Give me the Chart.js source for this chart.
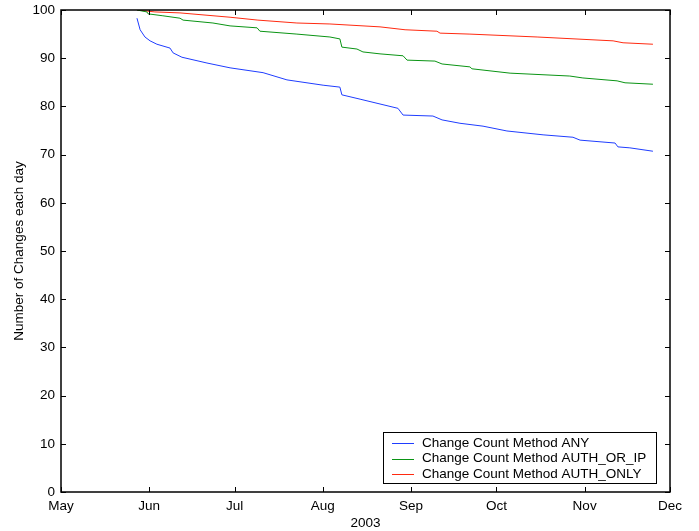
<!DOCTYPE html>
<html>
<head>
<meta charset="utf-8">
<script src="https://cdn.jsdelivr.net/npm/chart.js@4"></script>
<style>
  html, body { margin: 0; padding: 0; background: #fff; }
  #wrap { width: 699px; height: 531px; }
</style>
</head>
<body>
<div id="wrap"><canvas id="myChart" width="699" height="531"></canvas></div>
<script>
// day 0 = 1 May 2003
var monthStarts = [0, 31, 61, 92, 123, 153, 184, 214];
var monthLabels = ['May', 'Jun', 'Jul', 'Aug', 'Sep', 'Oct', 'Nov', 'Dec'];
var yTicks = [0, 10, 20, 30, 40, 50, 60, 70, 80, 90, 100];

var seriesNames = ['Change Count Method ANY', 'Change Count Method AUTH_OR_IP', 'Change Count Method AUTH_ONLY'];
var seriesColors = ['#1f3dff', '#0a9414', '#ff2a10'];

var anyDays = [26.7, 27.8, 29.5, 31.3, 33.7, 38.3, 39.4, 42.5, 51.3, 59.4, 71.0, 79.4, 92.1, 98.0, 98.7, 105.1, 112.1, 118.4, 120.2, 130.7, 133.9, 140.2, 148.3, 156.7, 169.4, 179.9, 182.4, 194.7, 195.7, 199.9, 208.0];
var anyValues = [98.3, 95.9, 94.4, 93.6, 92.9, 92.1, 91.1, 90.2, 89.0, 88.0, 87.0, 85.5, 84.4, 84.0, 82.4, 81.5, 80.5, 79.6, 78.2, 78.0, 77.2, 76.5, 75.9, 74.9, 74.1, 73.6, 73.0, 72.4, 71.6, 71.4, 70.7];

var authIpDays = [26.7, 30.2, 30.6, 35.8, 41.8, 42.9, 53.4, 59.4, 68.9, 69.9, 82.9, 94.5, 98.0, 98.7, 104.0, 106.1, 112.1, 120.2, 121.6, 131.4, 133.9, 143.7, 144.4, 157.8, 178.8, 183.4, 195.4, 198.2, 208.0];
var authIpValues = [100, 99.6, 99.2, 98.8, 98.3, 97.9, 97.3, 96.7, 96.3, 95.6, 95.0, 94.4, 94.0, 92.3, 91.9, 91.3, 90.9, 90.5, 89.6, 89.4, 88.8, 88.2, 87.8, 86.9, 86.3, 85.9, 85.3, 84.9, 84.6];

var authOnlyDays = [26.7, 33.0, 41.8, 59.4, 69.2, 82.9, 94.5, 112.1, 120.9, 132.1, 133.2, 143.7, 167.3, 194.0, 197.5, 208.0];
var authOnlyValues = [100, 99.6, 99.4, 98.5, 97.9, 97.3, 97.1, 96.5, 95.9, 95.6, 95.2, 95.0, 94.4, 93.6, 93.2, 92.9];

function toPoints(days, values) {
  return days.map(function (d, i) { return { x: d, y: values[i] }; });
}

var seriesDays = [anyDays, authIpDays, authOnlyDays];
var seriesValues = [anyValues, authIpValues, authOnlyValues];

var datasets = seriesNames.map(function (name, i) {
  return {
    label: name,
    data: toPoints(seriesDays[i], seriesValues[i]),
    borderColor: seriesColors[i],
    borderWidth: 1,
    pointRadius: 0,
    fill: false,
    tension: 0
  };
});

var FONT = '"Liberation Sans", Arial, Helvetica, sans-serif';
Chart.defaults.font.family = FONT;
Chart.defaults.font.size = 13.5;
Chart.defaults.color = '#000';

// frame, inward ticks and boxed legend, MATLAB style
var matlabAxes = {
  id: 'matlabAxes',
  afterDraw: function (chart) {
    var ctx = chart.ctx;
    var a = chart.chartArea;
    var xs = chart.scales.x, ys = chart.scales.y;
    var tl = 5;
    ctx.save();
    ctx.strokeStyle = '#000';
    ctx.lineWidth = 1;
    ctx.beginPath();
    monthStarts.forEach(function (v) {
      var px = Math.round(xs.getPixelForValue(v)) + 0.5;
      ctx.moveTo(px, a.bottom); ctx.lineTo(px, a.bottom - tl);
      ctx.moveTo(px, a.top); ctx.lineTo(px, a.top + tl);
    });
    yTicks.forEach(function (v) {
      var py = Math.round(ys.getPixelForValue(v)) + 0.5;
      ctx.moveTo(a.left, py); ctx.lineTo(a.left + tl, py);
      ctx.moveTo(a.right, py); ctx.lineTo(a.right - tl, py);
    });
    ctx.stroke();
    ctx.lineWidth = 1.5;
    ctx.strokeRect(Math.round(a.left), Math.round(a.top), Math.round(a.right - a.left), Math.round(a.bottom - a.top));

    // legend box
    var bx = 383, by = 432, bw = 273, bh = 51;
    ctx.fillStyle = '#fff';
    ctx.fillRect(bx, by, bw, bh);
    ctx.lineWidth = 1;
    ctx.strokeRect(bx + 0.5, by + 0.5, bw, bh);
    ctx.font = '13.5px ' + FONT;
    ctx.textBaseline = 'middle';
    ctx.textAlign = 'left';
    chart.data.datasets.forEach(function (ds, i) {
      var ry = by + 11 + i * 15.5;
      ctx.strokeStyle = ds.borderColor;
      ctx.beginPath();
      ctx.moveTo(bx + 9, Math.round(ry) + 0.5);
      ctx.lineTo(bx + 31, Math.round(ry) + 0.5);
      ctx.stroke();
      ctx.fillStyle = '#000';
      ctx.fillText(ds.label, bx + 39, ry);
    });
    ctx.restore();
  }
};

var ctx = document.getElementById('myChart').getContext('2d');
var myChart = new Chart(ctx, {
  type: 'line',
  data: { datasets: datasets },
  options: {
    responsive: false,
    animation: false,
    layout: { padding: { left: 0, top: 10, right: 29, bottom: 0 } },
    plugins: {
      legend: { display: false },
      tooltip: { enabled: false }
    },
    scales: {
      x: {
        type: 'linear',
        min: 0,
        max: 214,
        grid: { display: false, drawTicks: false },
        border: { display: false },
        afterBuildTicks: function (scale) {
          scale.ticks = monthStarts.map(function (v) { return { value: v }; });
        },
        afterFit: function (scale) {
          scale.height = 39;
          scale.paddingLeft = 0;
          scale.paddingRight = 0;
        },
        ticks: {
          autoSkip: false,
          maxRotation: 0,
          padding: 6,
          callback: function (v) { return monthLabels[monthStarts.indexOf(v)]; }
        },
        title: { display: true, text: '2003', padding: { top: 0, bottom: 0 } }
      },
      y: {
        min: 0,
        max: 100,
        grid: { display: false, drawTicks: false },
        border: { display: false },
        afterBuildTicks: function (scale) {
          scale.ticks = yTicks.map(function (v) { return { value: v }; });
        },
        afterFit: function (scale) {
          scale.width = 61;
          scale.paddingTop = 0;
          scale.paddingBottom = 0;
        },
        ticks: { padding: 6 },
        title: { display: true, text: 'Number of Changes each day', padding: { top: 11, bottom: 0 } }
      }
    }
  },
  plugins: [matlabAxes]
});
</script>
</body>
</html>
